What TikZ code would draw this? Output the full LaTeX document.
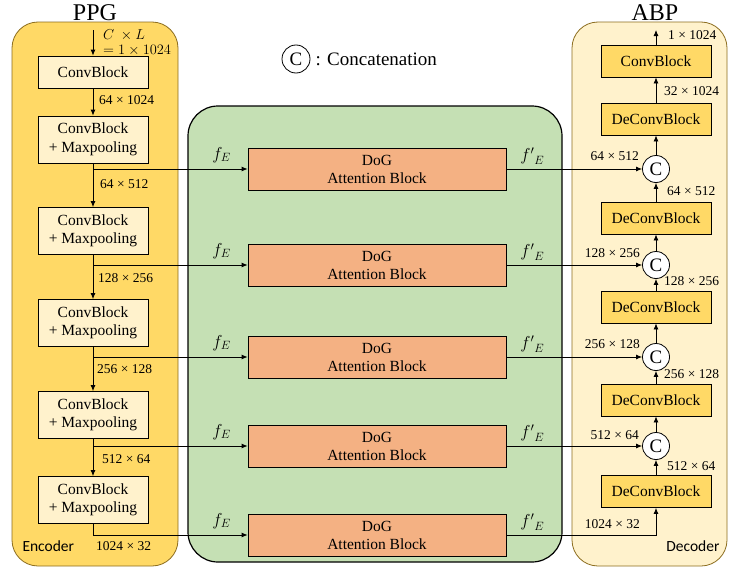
\documentclass[tikz,border=0pt]{standalone}
\usepackage{fontspec}
\setmainfont{Liberation Serif}
\newfontfamily\labelfont{Carlito}
\usepackage{tikz}
\usetikzlibrary{arrows.meta, positioning, calc}
\definecolor{PPGGold}{HTML}{FFD966}
\definecolor{PPGLight}{HTML}{FFF2CC}
\definecolor{PPGEdge}{HTML}{8C6D1F}
\definecolor{DoGGreen}{HTML}{C5E0B4}
\definecolor{DoGOrange}{HTML}{F4B183}

\begin{document}
\begin{tikzpicture}[
    x=1pt, y=-1pt,
    font=\fontsize{15.5}{18.5}\selectfont,
    >={Latex[length=6pt, width=5pt]},
    panel/.style = {
        rectangle, rounded corners=26pt, draw=PPGEdge, line width=0.8pt
    },
    encblock/.style = {
        rectangle, draw, line width=0.8pt, fill=PPGLight,
        minimum width=110pt, minimum height=47pt,
        align=center, inner sep=2pt
    },
    decblock/.style = {
        rectangle, draw, line width=0.8pt, fill=PPGGold,
        minimum width=110pt, minimum height=32pt,
        align=center, inner sep=2pt
    },
    dogblock/.style = {
        rectangle, draw, line width=0.8pt, fill=DoGOrange,
        minimum width=258pt, minimum height=42pt,
        align=center, inner sep=2pt, font=\fontsize{15.5}{18}\selectfont
    },
    catnode/.style = {
        circle, draw, line width=0.8pt, fill=white,
        minimum size=27pt, inner sep=0pt, font=\fontsize{19}{19}\selectfont
    },
    dimlabel/.style = {font=\fontsize{13.5}{15}\selectfont, inner sep=1pt},
    sidetag/.style = {font=\labelfont\fontsize{15.5}{17}\selectfont},
    arrow/.style = {->, line width=0.8pt}
]
\useasboundingbox (0,0) rectangle (729,570);

% ===== PANELS =====
\draw[panel, fill=PPGGold] (12,22) rectangle (178,566);
\draw[panel, fill=PPGLight] (572,22) rectangle (727,566);
\draw[rounded corners=30pt, fill=DoGGreen, draw=black, line width=1.2pt]
    (188,106) rectangle (562,562);

\node[font=\fontsize{24}{24}\selectfont] (ppg) at (95,13) {PPG};
\node[font=\fontsize{24}{24}\selectfont] (abp) at (655,13) {ABP};
\node[sidetag, anchor=west] (enc) at (19,546) {Encoder};
\node[sidetag, anchor=east] (dec) at (723,546) {Decoder};

% ===== LEGEND =====
\node[catnode, minimum size=28pt] (legend) at (296,59) {C};
\node[anchor=west, inner sep=5pt, font=\fontsize{19}{20}\selectfont] (legtext) at (legend.east) {: Concatenation};

% ===== ENCODER =====
\coordinate (in) at (93,30);
\node[encblock, minimum height=32pt] (conv) at (93,72) {ConvBlock};
\node[encblock] (enc1) at (93,139.5) {ConvBlock\\+ Maxpooling};
\node[encblock] (enc2) at (93,231) {ConvBlock\\+ Maxpooling};
\node[encblock] (enc3) at (93,323) {ConvBlock\\+ Maxpooling};
\node[encblock] (enc4) at (93,415) {ConvBlock\\+ Maxpooling};
\node[encblock] (enc5) at (93,500) {ConvBlock\\+ Maxpooling};

\node[dimlabel, anchor=north west, align=left] (inlab) at (102,28) {$C\ \times L$\\$= 1 \times 1024$};
\node[dimlabel, anchor=west] at (98,100) {64 × 1024};
\node[dimlabel, anchor=west] at (99,184) {64 × 512};
\node[dimlabel, anchor=west] at (97,278) {128 × 256};
\node[dimlabel, anchor=west] at (96,369) {256 × 128};
\node[dimlabel, anchor=west] at (101,459) {512 × 64};
\node[dimlabel, anchor=west] at (95,546) {1024 × 32};

% ===== DOG ATTENTION =====
\node[dogblock] (dog1) at (377,169) {DoG\\Attention Block};
\node[dogblock] (dog2) at (377,265) {DoG\\Attention Block};
\node[dogblock] (dog3) at (377,357) {DoG\\Attention Block};
\node[dogblock] (dog4) at (377,446) {DoG\\Attention Block};
\node[dogblock] (dog5) at (377,535) {DoG\\Attention Block};

\foreach \d in {dog1,dog2,dog3,dog4,dog5} {
    \node[font=\fontsize{17}{18}\selectfont] at ($(\d.west)+(-26,-14)$) {$f_E$};
    \node[font=\fontsize{17}{18}\selectfont] at ($(\d.east)+(26,-13)$) {${f'}_E$};
}

% ===== DECODER =====
\coordinate (out) at (656,30);
\node[decblock] (cout) at (656,61) {ConvBlock};
\node[decblock] (dec1) at (656,119) {DeConvBlock};
\node[catnode] (cat1) at (656,169) {C};
\node[decblock] (dec2) at (656,218) {DeConvBlock};
\node[catnode] (cat2) at (656,265) {C};
\node[decblock] (dec3) at (656,307) {DeConvBlock};
\node[catnode] (cat3) at (656,357) {C};
\node[decblock] (dec4) at (656,400) {DeConvBlock};
\node[catnode] (cat4) at (656,446) {C};
\node[decblock] (dec5) at (656,491.5) {DeConvBlock};

\node[dimlabel, anchor=west] at (667,35) {1 × 1024};
\node[dimlabel, anchor=west] at (663,91) {32 × 1024};
\node[dimlabel, anchor=east] at (640,156) {64 × 512};
\node[dimlabel, anchor=west] at (666,191) {64 × 512};
\node[dimlabel, anchor=east] at (641,253) {128 × 256};
\node[dimlabel, anchor=west] at (663,281) {128 × 256};
\node[dimlabel, anchor=east] at (641,344) {256 × 128};
\node[dimlabel, anchor=west] at (663,374) {256 × 128};
\node[dimlabel, anchor=east] at (640,435) {512 × 64};
\node[dimlabel, anchor=west] at (666,466) {512 × 64};
\node[dimlabel, anchor=east] at (641,524) {1024 × 32};

% ===== ARROWS =====
\draw[arrow] (in)   -- (conv);
\draw[arrow] (conv) -- (enc1);
\draw[arrow] (enc1) -- (enc2);
\draw[arrow] (enc2) -- (enc3);
\draw[arrow] (enc3) -- (enc4);
\draw[arrow] (enc4) -- (enc5);

\draw[arrow] (enc1.south |- dog1) -- (dog1);
\draw[arrow] (enc2.south |- dog2) -- (dog2);
\draw[arrow] (enc3.south |- dog3) -- (dog3);
\draw[arrow] (enc4.south |- dog4) -- (dog4);
\draw[arrow] (enc5.south) |- (dog5);

\draw[arrow] (dog1) -- (cat1);
\draw[arrow] (dog2) -- (cat2);
\draw[arrow] (dog3) -- (cat3);
\draw[arrow] (dog4) -- (cat4);
\draw[arrow] (dog5) -| (dec5);

\draw[arrow] (dec5) -- (cat4);
\draw[arrow] (cat4) -- (dec4);
\draw[arrow] (dec4) -- (cat3);
\draw[arrow] (cat3) -- (dec3);
\draw[arrow] (dec3) -- (cat2);
\draw[arrow] (cat2) -- (dec2);
\draw[arrow] (dec2) -- (cat1);
\draw[arrow] (cat1) -- (dec1);
\draw[arrow] (dec1) -- (cout);
\draw[arrow] (cout) -- (out);
\end{tikzpicture}
\end{document}
